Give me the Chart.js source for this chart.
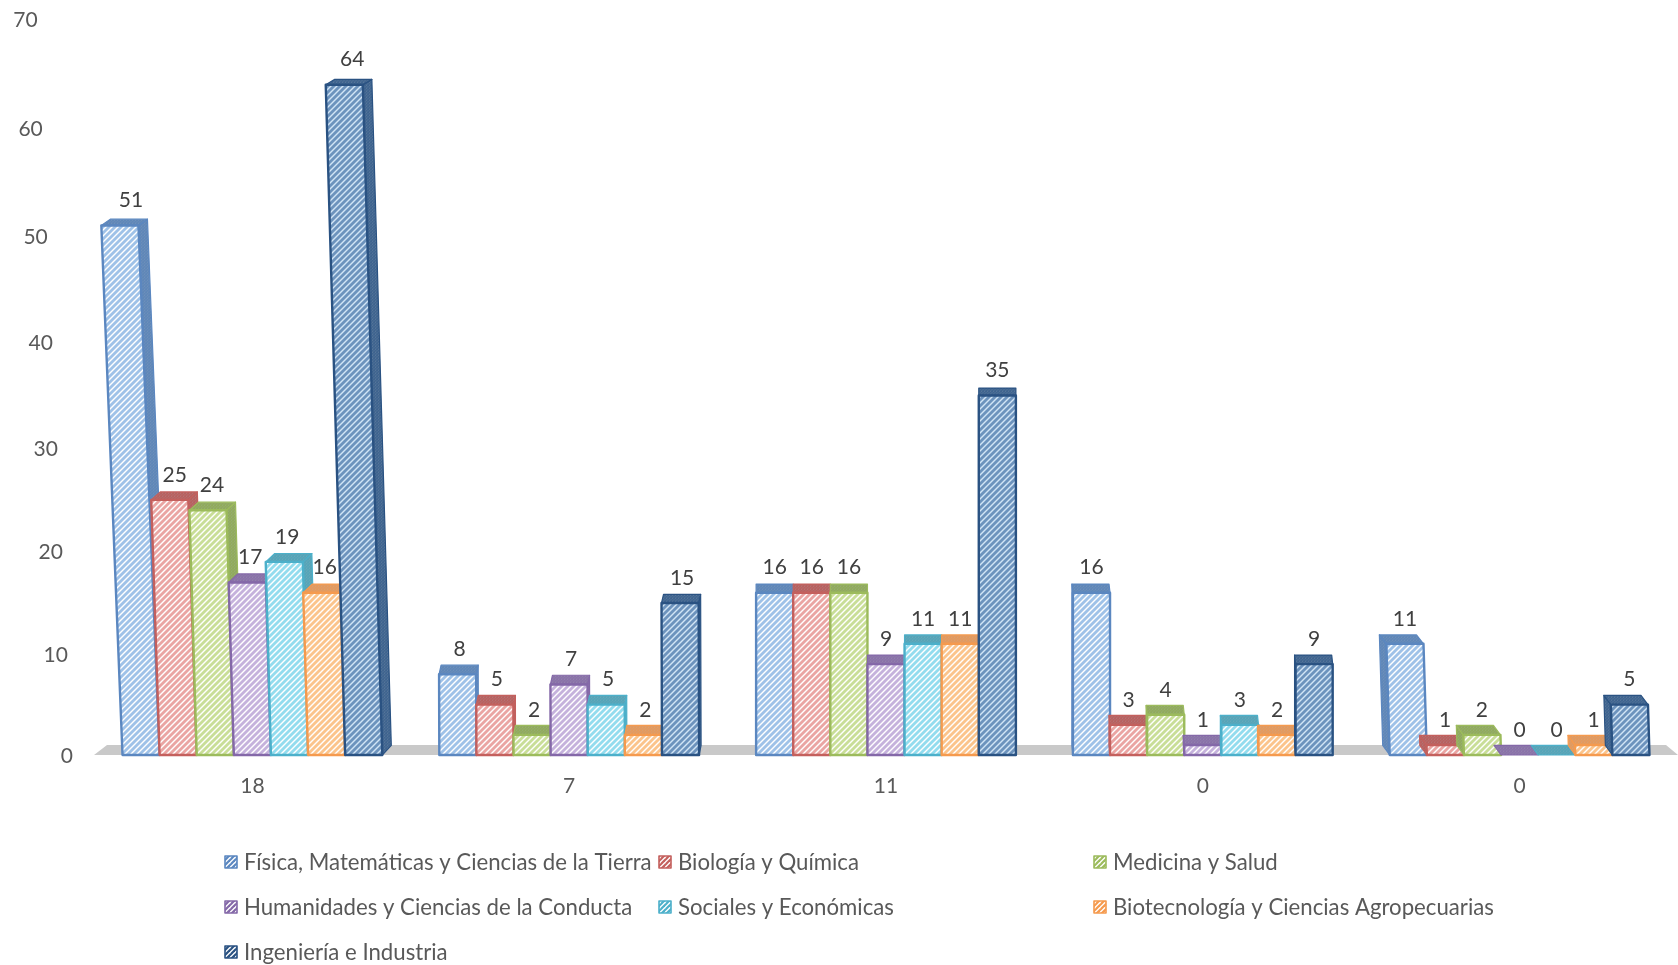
<!DOCTYPE html>
<html lang="es">
  <head>
    <meta charset="UTF-8" />
    <title>Proyectos por área</title>
    <script src="https://cdn.jsdelivr.net/npm/chart.js"></script>
    <style>
      html, body { margin: 0; padding: 0; background: #fff; }
      canvas { display: block; }
    </style>
  </head>
  <body>
    <canvas id="chart" width="1678" height="965"></canvas>

    <script>
      const categories = ["18", "7", "11", "0", "0"];
      const yTicks = [0, 10, 20, 30, 40, 50, 60, 70];

      const fisica = [51, 8, 16, 16, 11];
      const biologia = [25, 5, 16, 3, 1];
      const medicina = [24, 2, 16, 4, 2];
      const humanidades = [17, 7, 9, 1, 0];
      const sociales = [19, 5, 11, 3, 0];
      const biotecnologia = [16, 2, 11, 2, 1];
      const ingenieria = [64, 15, 35, 9, 5];

      const seriesNames = [
        "Física, Matemáticas y Ciencias de la Tierra",
        "Biología y Química",
        "Medicina y Salud",
        "Humanidades y Ciencias de la Conducta",
        "Sociales y Económicas",
        "Biotecnología y Ciencias Agropecuarias",
        "Ingeniería e Industria",
      ];
      const seriesValues = [fisica, biologia, medicina, humanidades, sociales, biotecnologia, ingenieria];

      // edge colour, stripe colour, cap/side colour, hatch background
      const seriesColors = [
        ["#5b87c0", "#9fc2e8", "#5f87b8", "#ffffff"],
        ["#c4605d", "#eaa5a3", "#b8615f", "#ffffff"],
        ["#9cbb5c", "#c9de98", "#91ab5c", "#ffffff"],
        ["#8468a8", "#c5b2dc", "#8a72a8", "#ffffff"],
        ["#4cb0ca", "#93dcee", "#55a5b8", "#ffffff"],
        ["#f59a4e", "#fbc48c", "#e59a5c", "#ffffff"],
        ["#2a5282", "#6d93bd", "#3f648f", "#d2e4f5"],
      ];

      // the reference is a tilted 3D picture: how far bars lean and how far the back face shifts, per group
      const leanFirstGroup = [0.04, 0.033, 0.03, 0.03, 0.027, 0.03, 0.029];
      const leanByGroup = [0, 0.003, 0, 0, 0.03];
      const depthByGroup = [9, 2, 0, -1, -7];
      const labelShiftFirstGroup = [11, 5, 4, 3, 3, 3, 8];

      const FONT = "Lato, 'Open Sans', sans-serif";

      // Chart.Scale with a small vertical stretch towards the top, as in the source perspective
      class PerspectiveScale extends Chart.LinearScale {
        getPixelForValue(value) {
          const d = (value - this.min) / (this.max - this.min);
          const k = 0.048;
          return this.getPixelForDecimal((d * (1 + k * d)) / (1 + k));
        }
      }
      PerspectiveScale.id = "perspective";
      PerspectiveScale.defaults = Chart.LinearScale.defaults;
      Chart.register(PerspectiveScale);

      function makeHatch(stripe, bg, tile, width) {
        const c = document.createElement("canvas");
        c.width = tile;
        c.height = tile;
        const g = c.getContext("2d");
        g.fillStyle = bg;
        g.fillRect(0, 0, tile, tile);
        g.strokeStyle = stripe;
        g.lineWidth = width;
        for (let i = -tile; i <= tile; i += tile) {
          g.beginPath();
          g.moveTo(i - 1, tile + 1);
          g.lineTo(i + tile + 1, -1);
          g.stroke();
        }
        return g.createPattern(c, "repeat");
      }

      function poly(ctx, pts, fill, stroke, lw) {
        ctx.beginPath();
        pts.forEach((p, i) => (i ? ctx.lineTo(p[0], p[1]) : ctx.moveTo(p[0], p[1])));
        ctx.closePath();
        ctx.fillStyle = fill;
        ctx.fill();
        if (stroke) {
          ctx.strokeStyle = stroke;
          ctx.lineWidth = lw;
          ctx.lineJoin = "round";
          ctx.stroke();
        }
      }

      const capDepth = (y) => (y + 750) * 0.0064;
      const leanOf = (series, group) => (group === 0 ? leanFirstGroup[series] : leanByGroup[group]);

      function drawBar(ctx, bar, series, g) {
        const colors = seriesColors[series];
        const front = makeHatch(colors[1], colors[3], 6, 2.8);
        const back = makeHatch(colors[2], "#a9b5c2", 3, 2.2);
        const w = bar.width / 2;
        const h = bar.base - bar.y;
        const shift = -leanOf(series, g) * h;
        const dx = depthByGroup[g];
        const dy = capDepth(bar.y);
        const bl = [bar.x - w, bar.base];
        const br = [bar.x + w, bar.base];
        const tl = [bar.x - w + shift, bar.y];
        const tr = [bar.x + w + shift, bar.y];
        const sideX = dx >= 0 ? [tr, br] : [tl, bl];
        if (dx !== 0 && h > 0) {
          const bd = capDepth(bar.base);
          poly(ctx, [sideX[0], sideX[1], [sideX[1][0] + dx, sideX[1][1] - bd], [sideX[0][0] + dx, sideX[0][1] - dy]], back, colors[0], 1.2);
        }
        poly(ctx, [tl, tr, [tr[0] + dx, tr[1] - dy], [tl[0] + dx, tl[1] - dy]], back, colors[0], 1.2);
        if (h > 0) {
          poly(ctx, [bl, br, tr, tl], front, colors[0], 2.4);
        }
      }

      const bars3d = {
        id: "bars3d",
        beforeDatasetsDraw(chart) {
          const { ctx, chartArea: a } = chart;
          const y0 = chart.scales.y.getPixelForValue(0);
          poly(ctx, [[a.left, y0], [a.right, y0], [a.right - 12, y0 - 10], [a.left + 13, y0 - 10]], "#c9c9c9");

          // value axis labels follow the tilt of the wall
          ctx.font = "21px " + FONT;
          ctx.fillStyle = "#595959";
          ctx.textAlign = "right";
          ctx.textBaseline = "middle";
          yTicks.forEach((t) => {
            ctx.fillText(String(t), 73 - t * 0.504, chart.scales.y.getPixelForValue(t) + 1);
          });
        },
        // chart.js paints the last dataset first; the 3D faces need left to right, so it is done below
        beforeDatasetDraw() {
          return false;
        },
        afterDatasetsDraw(chart) {
          const { ctx } = chart;
          chart.data.datasets.forEach((ds, i) => {
            chart.getDatasetMeta(i).data.forEach((bar, g) => drawBar(ctx, bar, i, g));
          });

          ctx.font = "21px " + FONT;
          ctx.fillStyle = "#404040";
          ctx.textAlign = "center";
          ctx.textBaseline = "middle";
          chart.data.datasets.forEach((ds, i) => {
            chart.getDatasetMeta(i).data.forEach((bar, g) => {
              const h = bar.base - bar.y;
              const extra = g === 0 ? labelShiftFirstGroup[i] : Math.max(depthByGroup[g], 0);
              ctx.fillText(String(ds.data[g]), bar.x - leanOf(i, g) * h + extra, bar.y - 25);
            });
          });

          // legend in three fixed columns, like the source
          const cols = [225, 659, 1094];
          const rows = [862, 907, 952];
          ctx.textAlign = "left";
          chart.data.datasets.forEach((ds, i) => {
            const x = cols[i % 3];
            const y = rows[Math.floor(i / 3)];
            const colors = seriesColors[i];
            poly(ctx, [[x, y - 6], [x + 12, y - 6], [x + 12, y + 6], [x, y + 6]], makeHatch(colors[0], "#ffffff", 5, 2.2), colors[0], 1.6);
            ctx.font = "22.2px " + FONT;
            ctx.fillStyle = "#595959";
            ctx.fillText(ds.label, x + 19, y + 1);
          });
        },
      };

      new Chart(document.getElementById("chart"), {
        type: "bar",
        data: {
          labels: categories,
          datasets: seriesNames.map((name, i) => ({ label: name, data: seriesValues[i] })),
        },
        plugins: [bars3d],
        options: {
          responsive: false,
          animation: false,
          categoryPercentage: 0.82,
          barPercentage: 1,
          layout: { padding: { left: 94, top: 19, right: 0, bottom: 0 } },
          plugins: { legend: { display: false }, tooltip: { enabled: false } },
          scales: {
            x: {
              grid: { display: false },
              border: { display: false },
              afterFit: (s) => { s.height = 210; },
              ticks: { color: "#595959", font: { size: 21, family: FONT }, padding: 10.5, maxRotation: 0 },
            },
            y: {
              type: "perspective",
              display: false,
              min: 0,
              max: 70,
            },
          },
        },
      });
    </script>
  </body>
</html>
